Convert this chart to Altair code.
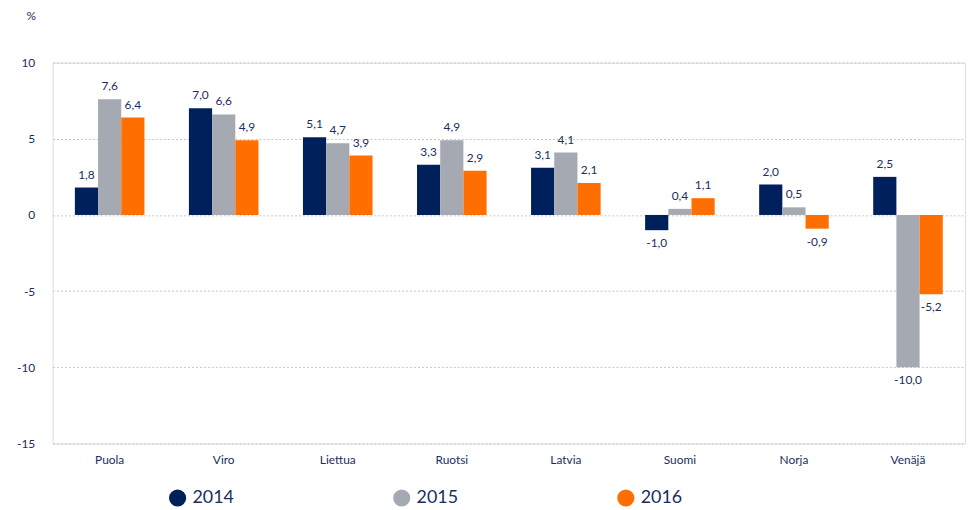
import altair as alt
import pandas as pd

countries = ["Puola", "Viro", "Liettua", "Ruotsi", "Latvia", "Suomi", "Norja", "Venäjä"]
years = ["2014", "2015", "2016"]
v2014 = [1.8, 7.0, 5.1, 3.3, 3.1, -1.0, 2.0, 2.5]
v2015 = [7.6, 6.6, 4.7, 4.9, 4.1, 0.4, 0.5, -10.0]
v2016 = [6.4, 4.9, 3.9, 2.9, 2.1, 1.1, -0.9, -5.2]
colors = ["#00205b", "#a5a9b2", "#ff6e00"]
y_ticks = [-15, -10, -5, 0, 5, 10]

rows = []
for yr, vals in zip(years, [v2014, v2015, v2016]):
    for c, v in zip(countries, vals):
        rows.append({"maa": c, "vuosi": yr, "arvo": v})
df = pd.DataFrame(rows)

FONT = "Lato"
NAVY = "#1c2d5c"

x = alt.X("maa:N", sort=countries, title=None,
          scale=alt.Scale(paddingInner=0.39, paddingOuter=0.195),
          axis=alt.Axis(labelAngle=0, ticks=False, domain=False, labelPadding=11,
                        labelFontSize=12, labelColor=NAVY, labelFont=FONT))
xo = alt.XOffset("vuosi:N", sort=years, scale=alt.Scale(paddingInner=0, paddingOuter=0))
y = alt.Y("arvo:Q", title="%",
          scale=alt.Scale(domain=[-15, 10], nice=False, zero=False),
          axis=alt.Axis(values=y_ticks, ticks=False, domain=False, labelPadding=18,
                        labelExpr="datum.value < 0 ? '-' + abs(datum.value) : '' + datum.value",
                        labelFontSize=12, labelColor=NAVY, labelFont=FONT,
                        grid=True, gridColor="#c4c4c4", gridDash=[2, 2], gridWidth=1,
                        titleAngle=0, titleX=-22, titleY=-40, titleFontSize=12,
                        titleFontWeight="normal", titleColor=NAVY, titleFont=FONT))
color = alt.Color("vuosi:N", sort=years, title=None,
                  scale=alt.Scale(domain=years, range=colors),
                  legend=alt.Legend(orient="none", legendX=117, legendY=430,
                                    direction="horizontal", columns=3, columnPadding=160,
                                    symbolType="circle", symbolSize=300, symbolStrokeWidth=0,
                                    labelFontSize=18, labelColor=NAVY, labelFont=FONT,
                                    labelOffset=6))

base = alt.Chart(df)
bars = base.mark_bar().encode(x=x, xOffset=xo, y=y, y2=alt.datum(0), color=color)

lab = base.transform_calculate(
    txt="(datum.arvo < 0 ? '-' : '') + replace(format(abs(datum.arvo), '.1f'), '.', ',')"
)
pos = lab.transform_filter("datum.arvo >= 0").mark_text(
    baseline="bottom", dy=-6, fontSize=12, color=NAVY, font=FONT
).encode(x=x, xOffset=xo, y=y, text="txt:N")
neg = lab.transform_filter("datum.arvo < 0").mark_text(
    baseline="top", dy=8, fontSize=12, color=NAVY, font=FONT
).encode(x=x, xOffset=xo, y=y, text="txt:N")

chart = alt.layer(bars, pos, neg).properties(
    width=920, height=384,
    autosize=alt.AutoSizeParams(type="none"),
    padding={"left": 45, "top": 53, "right": 2, "bottom": 62},
).configure_view(stroke=None).configure(background="white")

chart.save("out.html", embed_options={"renderer": "svg", "actions": False})
